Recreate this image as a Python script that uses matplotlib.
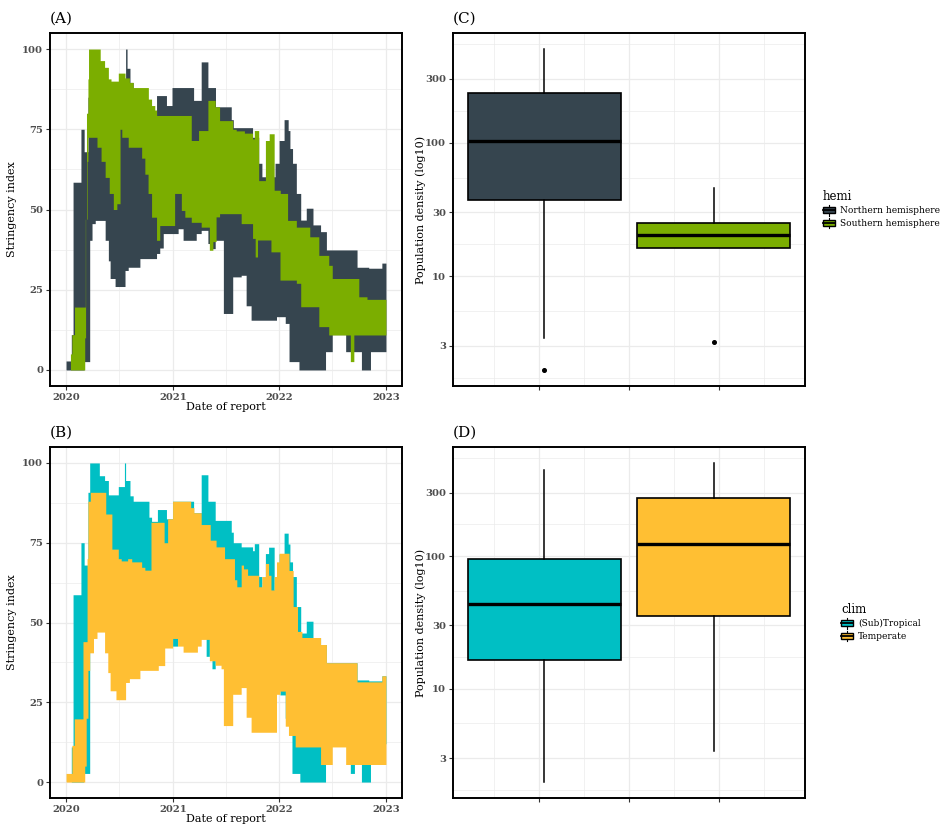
import numpy as np
import matplotlib
matplotlib.use('Agg')
import matplotlib.pyplot as plt
import matplotlib.dates as mdates
from matplotlib.patches import Rectangle
from matplotlib.lines import Line2D
from matplotlib.legend_handler import HandlerBase
from matplotlib.ticker import FixedLocator, NullFormatter, FixedFormatter

# ---------------- data: stringency ribbons (days since 2020-01-01, step values) ----------------
north_hi_day = [0, 18, 24, 51, 62, 75, 204, 209, 219, 230, 270, 310, 344, 363, 437, 463, 486, 512,
                566, 573, 639, 660, 671, 716, 730, 747, 761, 767, 776, 789, 804, 823, 846, 872, 892, 997, 1037, 1082]
north_hi = [2.8, 11, 58.5, 75, 68, 85, 100, 94, 89.6, 85, 79, 85.5, 82.4, 88, 84, 96, 88, 82,
            78, 75.5, 72.5, 64.4, 60.2, 64.4, 71.5, 78, 74.6, 69, 64.4, 55, 46.7, 50.4, 45.2, 43.1, 37.4, 32, 31.7, 33.3]
north_lo_day = [0, 62, 81, 89, 100, 134, 145, 151, 168, 202, 213, 253, 310, 321, 333, 384, 401, 446, 463, 486,
                497, 511, 539, 571, 600, 617, 634, 721, 751, 764, 798, 889, 912, 958, 1012, 1043]
north_lo = [0, 2.6, 40.4, 45.6, 46.6, 40.4, 34, 28.5, 26, 31, 32, 34.7, 36.3, 38, 42.5, 44, 40.4, 42.5, 43.5, 39.4,
            37.8, 40.4, 17.6, 29, 29.5, 20, 15.5, 16.6, 14.5, 2.6, 0, 5.7, 11, 5.7, 0, 5.7]

south_hi_day = [0, 15, 20, 29, 66, 70, 75, 77, 117, 132, 145, 154, 179, 202, 217, 230, 282, 293, 304, 310, 429, 454,
                486, 511, 526, 571, 583, 611, 639, 645, 660, 683, 696, 713, 734, 759, 789, 835, 866, 900, 912, 1003, 1031]
south_hi = [0, 5, 11, 19.6, 47, 80, 90.7, 100, 96.4, 94.3, 90.7, 90, 92.5, 91, 89.6, 88, 84.4, 82.4, 81, 79.3, 71.5, 74.6,
            84, 82, 77.7, 75, 74.5, 73.8, 72, 74.6, 59, 71.5, 73.6, 56, 55, 46.6, 44.5, 41.5, 35.7, 32.6, 28.5, 22.8, 22]
south_lo_day = [0, 60, 64, 67, 72, 75, 106, 120, 134, 148, 162, 174, 185, 191, 213, 259, 270, 281, 293, 310, 321, 372,
                395, 407, 429, 463, 491, 503, 514, 526, 600, 639, 648, 656, 702, 733, 789, 804, 866, 900, 974, 986]
south_lo = [0, 0, 10, 47, 65, 72.5, 69.4, 65, 60, 55, 50, 51.8, 75, 72.5, 69.4, 66, 61, 55, 47.6, 40.4, 45, 55,
            49.7, 47.6, 46, 44.5, 37.3, 40, 47.7, 48.7, 45.6, 41, 35.2, 40.5, 36.8, 28, 27, 19.7, 13.5, 10.9, 2.6, 10.9]

trop_hi_day = [0, 18, 24, 51, 62, 75, 81, 114, 132, 145, 179, 200, 204, 219, 230, 284, 293, 313, 344, 365, 437, 463,
               486, 511, 566, 573, 600, 639, 645, 660, 671, 683, 694, 713, 719, 730, 747, 761, 767, 776, 789, 804,
               823, 846, 872, 892, 997, 1037, 1082]
trop_hi = [0, 11, 58.7, 75, 68, 90.8, 100, 96, 94.5, 90, 92.6, 100, 94.5, 89.7, 88, 83, 81.7, 85.4, 82.5, 88, 84.4, 96.3,
           88, 82, 78.3, 75, 73.7, 72.5, 74.7, 64.4, 60.2, 71.6, 73.6, 60.2, 64.4, 71.5, 78, 74.6, 69, 64.4, 55, 46.7,
           50.4, 45.2, 43.1, 37.4, 32, 31.7, 33.3]
trop_lo_day = [0, 60, 81, 365, 382, 480, 491, 500, 511, 526, 733, 751, 774, 801, 889, 974, 988, 1012, 1043]
trop_lo = [0, 2.7, 48, 42.6, 48, 39.4, 48, 35.5, 48, 40, 27.3, 20, 2.7, 0, 12, 2.7, 12, 0, 12]

temp_hi_day = [0, 20, 28, 58, 72, 75, 83, 136, 157, 179, 189, 211, 225, 259, 270, 291, 336, 348, 365, 427, 438, 463,
               494, 514, 543, 577, 585, 600, 608, 622, 660, 671, 683, 694, 702, 713, 721, 730, 764, 778, 793, 808,
               872, 892, 997, 1082]
temp_hi = [2.7, 11.5, 19.8, 44, 70, 88, 90.8, 84, 73, 70, 69.3, 70, 69, 67.3, 66.4, 81.4, 75, 82.5, 88, 86, 84.4, 80.7,
           75.8, 73.7, 70, 63.4, 61.2, 68, 66.8, 64.8, 61.2, 64.4, 68.5, 64.8, 60.2, 64.4, 69, 71.7, 66.3, 55, 47.2, 45.3,
           43.1, 37.4, 31.4, 33.3]
temp_lo_day = [0, 58, 64, 69, 75, 81, 94, 106, 132, 143, 151, 171, 204, 217, 253, 316, 338, 365, 382, 401, 450, 463,
               491, 511, 531, 539, 571, 600, 617, 634, 721, 733, 751, 762, 785, 872, 912, 958]
temp_lo = [0, 0, 5, 20, 35, 40.5, 45, 47, 40.5, 34.3, 28.6, 25.8, 31.2, 32.4, 35, 36.5, 42, 45, 42.6, 40.7, 42.6, 44.7,
           38, 36.6, 35.5, 17.7, 27.5, 29.6, 20.3, 15.6, 27.5, 28.5, 17.5, 14.6, 11, 5.5, 11, 5.5]

# ---------------- data: population density boxplots ----------------
hemi_levels = ['Northern hemisphere', 'Southern hemisphere']
hemi_q1 = [36.9, 16.2]
hemi_med = [102, 20.4]
hemi_q3 = [234, 24.8]
hemi_whislo = [3.43, 16.2]
hemi_whishi = [503, 45.9]
hemi_fliers = [[1.97], [3.2]]

clim_levels = ['(Sub)Tropical', 'Temperate']
clim_q1 = [16.5, 35.4]
clim_med = [43.8, 123]
clim_q3 = [94.5, 272]
clim_whislo = [1.98, 3.4]
clim_whishi = [446, 503]
clim_fliers = [[], []]

col_north = '#36454F'
col_south = '#7BAE00'
col_trop = '#00BFC4'
col_temp = '#FFBF33'

# ---------------- figure ----------------
W, H = 941, 827
plt.rcParams['font.family'] = ['DejaVu Serif']
fig = plt.figure(figsize=(W / 100, H / 100), dpi=100)

def ax_at(l, t, r, b):
    return fig.add_axes([l / W, 1 - b / H, (r - l) / W, (b - t) / H])

axA = ax_at(50, 33, 402, 386)
axB = ax_at(50, 447, 402, 798)
axC = ax_at(453, 33, 805, 386)
axD = ax_at(453, 447, 805, 798)

grid_col = '#EBEBEB'
tick_col = '#4D4D4D'

def style_common(ax):
    for s in ax.spines.values():
        s.set_linewidth(1.4)
        s.set_color('black')
    ax.set_axisbelow(True)
    ax.grid(which='major', color=grid_col, linewidth=0.9)
    ax.grid(which='minor', color=grid_col, linewidth=0.5)
    ax.tick_params(which='major', length=3, width=0.8, color='#333333',
                   labelsize=7.2, labelcolor=tick_col, pad=2)
    ax.tick_params(which='minor', length=0)
    for lab in ax.get_xticklabels() + ax.get_yticklabels():
        lab.set_fontweight('bold')

base = np.datetime64('2020-01-01')
grid_days = np.arange(0, 1097)
grid_dates = base + grid_days.astype('timedelta64[D]')

def step_eval(days, vals, g):
    idx = np.searchsorted(np.asarray(days), g, side='right') - 1
    return np.asarray(vals, dtype=float)[idx]

def ribbon_panel(ax, series, letter):
    for (hd, hv, ld, lv, col) in series:
        hi = step_eval(hd, hv, grid_days)
        lo = step_eval(ld, lv, grid_days)
        ax.fill_between(grid_dates, lo, hi, step='post', color=col, linewidth=0)
    span = 1096
    ax.set_xlim(base - np.timedelta64(55, 'D'), base + np.timedelta64(span + 55, 'D'))
    ax.set_ylim(-5, 105)
    ax.xaxis.set_major_locator(mdates.YearLocator())
    ax.xaxis.set_major_formatter(mdates.DateFormatter('%Y'))
    ax.xaxis.set_minor_locator(mdates.MonthLocator(bymonth=7))
    ax.yaxis.set_major_locator(FixedLocator([0, 25, 50, 75, 100]))
    ax.yaxis.set_minor_locator(FixedLocator([12.5, 37.5, 62.5, 87.5]))
    ax.set_xlabel('Date of report', fontsize=8, labelpad=0)
    ax.set_ylabel('Stringency index', fontsize=8, labelpad=3.5)
    style_common(ax)
    ax.text(0, 1.02, letter, transform=ax.transAxes, fontsize=11, ha='left', va='bottom')

ribbon_panel(axA, [(north_hi_day, north_hi, north_lo_day, north_lo, col_north),
                   (south_hi_day, south_hi, south_lo_day, south_lo, col_south)], '(A)')
ribbon_panel(axB, [(trop_hi_day, trop_hi, trop_lo_day, trop_lo, col_trop),
                   (temp_hi_day, temp_hi, temp_lo_day, temp_lo, col_temp)], '(B)')

class BoxKey(HandlerBase):
    def create_artists(self, legend, orig_handle, xdescent, ydescent, width, height, fontsize, trans):
        x0, y0 = -xdescent, -ydescent
        fc = orig_handle.get_facecolor()
        r = Rectangle((x0, y0 + 0.2 * height), width, 0.6 * height, facecolor=fc,
                      edgecolor='black', linewidth=1.0, transform=trans)
        cx = x0 + width / 2
        m = Line2D([x0, x0 + width], [y0 + 0.5 * height] * 2, color='black', linewidth=1.3, transform=trans)
        w1 = Line2D([cx, cx], [y0, y0 + 0.2 * height], color='black', linewidth=0.8, transform=trans)
        w2 = Line2D([cx, cx], [y0 + 0.8 * height, y0 + height], color='black', linewidth=0.8, transform=trans)
        return [r, m, w1, w2]

def box_panel(ax, levels, q1, med, q3, wlo, whi, fl, cols, letter, title, leg_x, leg_y):
    stats = []
    for i in range(len(levels)):
        stats.append(dict(med=med[i], q1=q1[i], q3=q3[i], whislo=wlo[i], whishi=whi[i],
                          fliers=fl[i], label=''))
    bp = ax.bxp(stats, positions=[0.06, 1.94], widths=1.7, patch_artist=True, showcaps=False,
                boxprops=dict(edgecolor='black', linewidth=1.2),
                medianprops=dict(color='black', linewidth=2.4, solid_capstyle='butt'),
                whiskerprops=dict(color='black', linewidth=1.1),
                flierprops=dict(marker='o', markerfacecolor='black', markeredgecolor='black',
                                markersize=2.6, linestyle='none'))
    for patch, c in zip(bp['boxes'], cols):
        patch.set_facecolor(c)
    ax.set_yscale('log')
    ax.set_ylim(1.50, 663)
    ax.set_xlim(-0.956, 2.956)
    ax.yaxis.set_major_locator(FixedLocator([3, 10, 30, 100, 300]))
    ax.yaxis.set_major_formatter(FixedFormatter(['3', '10', '30', '100', '300']))
    ax.yaxis.set_minor_locator(FixedLocator(list(np.sqrt([3 * 1, 3 * 10, 10 * 30, 30 * 100, 100 * 300, 300 * 1000]))))
    ax.yaxis.set_minor_formatter(NullFormatter())
    ax.xaxis.set_major_locator(FixedLocator([0, 1, 2]))
    ax.xaxis.set_major_formatter(NullFormatter())
    ax.xaxis.set_minor_locator(FixedLocator([-0.5, 0.5, 1.5, 2.5]))
    ax.set_ylabel('Population density (log10)', fontsize=8, labelpad=-0.5)
    style_common(ax)
    ax.text(0, 1.02, letter, transform=ax.transAxes, fontsize=11, ha='left', va='bottom')
    handles = [Rectangle((0, 0), 1, 1, facecolor=c) for c in cols]
    leg = fig.legend(handles, levels, title=title, loc='center left',
                     bbox_to_anchor=(leg_x / W, 1 - leg_y / H), frameon=False,
                     handler_map={Rectangle: BoxKey()}, fontsize=6.5, title_fontsize=8.5,
                     handlelength=1.3, handleheight=1.35, handletextpad=0.6, labelspacing=0.25,
                     borderpad=0, borderaxespad=0, alignment='left')
    return leg

box_panel(axC, hemi_levels, hemi_q1, hemi_med, hemi_q3, hemi_whislo, hemi_whishi, hemi_fliers,
          [col_north, col_south], '(C)', 'hemi', 823, 209)
box_panel(axD, clim_levels, clim_q1, clim_med, clim_q3, clim_whislo, clim_whishi, clim_fliers,
          [col_trop, col_temp], '(D)', 'clim', 841, 622)

fig.savefig('out.png', dpi=100)
